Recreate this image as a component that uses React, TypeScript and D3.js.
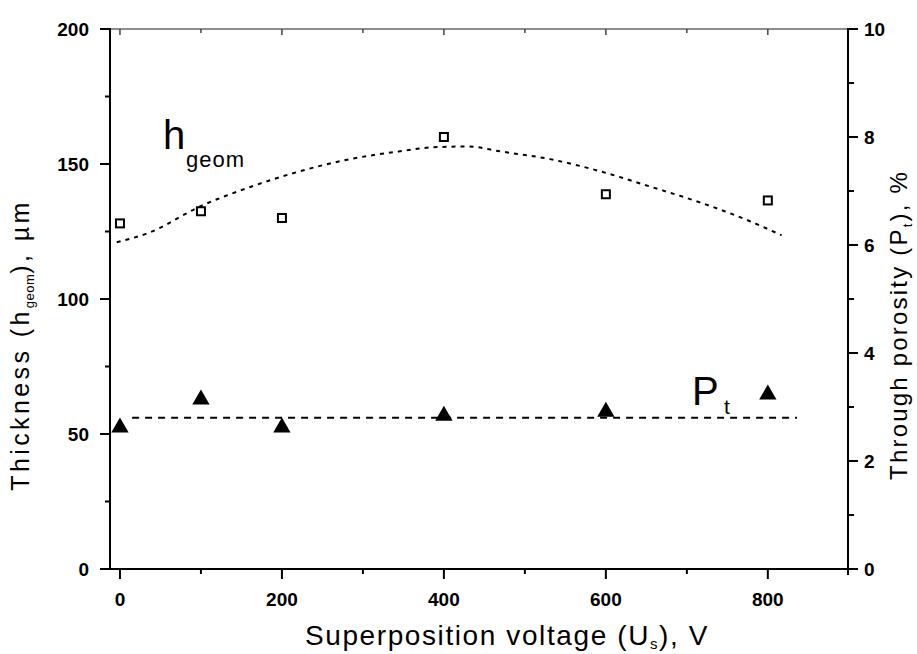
import React from "react";
import * as d3 from "d3";

const voltage = [0, 100, 200, 400, 600, 800];
const thickness = [128, 132.5, 130, 160, 138.8, 136.5];
const porosity = [2.62, 3.14, 2.62, 2.84, 2.91, 3.23];

const fitX = [-4, 37, 99, 160, 222, 284, 346, 387, 430, 469, 531, 593, 654, 716, 778, 817];
const fitH = [121, 124.7, 134.3, 141.4, 147.3, 151.8, 154.7, 156.2, 156.5, 154.7, 151.8, 147.3, 141.7, 135.8, 128.8, 123.6];

const meanX = [15, 836];
const meanP = [2.8, 2.8];

const xMajor = [0, 200, 400, 600, 800];
const xMinor = [100, 300, 500, 700];
const yMajor = [0, 50, 100, 150, 200];
const yMinor = [25, 75, 125, 175];
const y2Major = [0, 2, 4, 6, 8, 10];
const y2Minor = [1, 3, 5, 7, 9];

const W = 917;
const H = 654;
const L = 110, R = 848, T = 29, B = 569;

export default function App() {
  const x = d3.scaleLinear().domain([-12.3, 899]).range([L, R]);
  const y = d3.scaleLinear().domain([0, 200]).range([B, T]);
  const y2 = d3.scaleLinear().domain([0, 10]).range([B, T]);

  const fitLine = d3
    .line<number>()
    .x((_, i) => x(fitX[i]))
    .y((d) => y(d))
    .curve(d3.curveMonotoneX)(fitH) as string;

  const meanLine = d3
    .line<number>()
    .x((_, i) => x(meanX[i]))
    .y((d) => y2(d))(meanP) as string;

  const ff = "Liberation Sans, Arial, sans-serif";
  const tickFont = { fontFamily: ff, fontWeight: 700, fontSize: 19 };
  const tri = d3.symbol().type(d3.symbolTriangle).size(130)() as string;

  return (
    <svg width={W} height={H} style={{ position: "absolute", left: 0, top: 0, background: "#fff" }}>
      <rect x={0} y={0} width={W} height={H} fill="#fff" />
      {/* frame */}
      <line x1={L} y1={T} x2={R} y2={T} stroke="#666" strokeWidth={1.5} />
      <line x1={L} y1={T - 1} x2={L} y2={B + 1} stroke="#000" strokeWidth={2} />
      <line x1={R} y1={T - 1} x2={R} y2={B + 6} stroke="#000" strokeWidth={2} />
      <line x1={L - 10} y1={B} x2={R} y2={B} stroke="#000" strokeWidth={2} />

      {/* bottom ticks */}
      {xMajor.map((v) => (
        <g key={"xm" + v}>
          <line x1={x(v)} x2={x(v)} y1={B} y2={B + 10} stroke="#000" strokeWidth={2} />
          <line x1={x(v)} x2={x(v)} y1={T} y2={T + 6} stroke="#444" strokeWidth={1.5} />
          <text x={x(v)} y={606} textAnchor="middle" {...tickFont}>{v}</text>
        </g>
      ))}
      {xMinor.map((v) => (
        <g key={"xn" + v}>
          <line x1={x(v)} x2={x(v)} y1={B} y2={B + 5} stroke="#000" strokeWidth={2} />
          <line x1={x(v)} x2={x(v)} y1={T} y2={T + 4} stroke="#444" strokeWidth={1.5} />
        </g>
      ))}

      {/* left ticks */}
      {yMajor.map((v) => (
        <g key={"ym" + v}>
          <line x1={L - 10} x2={L} y1={y(v)} y2={y(v)} stroke="#000" strokeWidth={2} />
          <text x={89} y={y(v) + 7} textAnchor="end" {...tickFont}>{v}</text>
        </g>
      ))}
      {yMinor.map((v) => (
        <line key={"yn" + v} x1={L - 5} x2={L} y1={y(v)} y2={y(v)} stroke="#000" strokeWidth={2} />
      ))}

      {/* right ticks */}
      {y2Major.map((v) => (
        <g key={"y2m" + v}>
          <line x1={R} x2={R + 10} y1={y2(v)} y2={y2(v)} stroke="#000" strokeWidth={2} />
          <text x={864} y={y2(v) + 7} textAnchor="start" {...tickFont}>{v}</text>
        </g>
      ))}
      {y2Minor.map((v) => (
        <line key={"y2n" + v} x1={R} x2={R + 6} y1={y2(v)} y2={y2(v)} stroke="#000" strokeWidth={2} />
      ))}

      {/* fit curves */}
      <path d={fitLine} fill="none" stroke="#000" strokeWidth={2} strokeDasharray="4,5" />
      <path d={meanLine} fill="none" stroke="#000" strokeWidth={2} strokeDasharray="7,6" />

      {/* markers */}
      {voltage.map((v, i) => (
        <rect key={"sq" + v} x={x(v) - 4} y={y(thickness[i]) - 4} width={8} height={8} fill="#fff" stroke="#000" strokeWidth={2} />
      ))}
      {voltage.map((v, i) => (
        <path key={"tr" + v} d={tri} transform={`translate(${x(v)},${y2(porosity[i])})`} fill="#000" />
      ))}

      {/* annotations */}
      <text x={163} y={149} fontFamily={ff} fontSize={40}>h</text>
      <text x={186} y={167} fontFamily={ff} fontSize={22} letterSpacing={1}>geom</text>
      <text x={692} y={405} fontFamily={ff} fontSize={40}>P</text>
      <text x={724} y={414} fontFamily={ff} fontSize={21}>t</text>

      {/* axis titles */}
      <text x={507} y={645} textAnchor="middle" fontFamily={ff} fontSize={28} letterSpacing={1.6}>
        Superposition voltage (U<tspan fontSize={15} dy={4}>s</tspan><tspan dy={-4}>), V</tspan>
      </text>
      <text transform={`translate(29,345) rotate(-90)`} textAnchor="middle" fontFamily={ff} fontSize={25} letterSpacing={3.4}>
        Thickness (h<tspan fontSize={13} dy={5} letterSpacing={0.5}>geom</tspan><tspan dy={-5}>), µm</tspan>
      </text>
      <text transform={`translate(907,325) rotate(-90)`} textAnchor="middle" fontFamily={ff} fontSize={24} letterSpacing={2.2}>
        Through porosity (P<tspan fontSize={13} dy={5}>t</tspan><tspan dy={-5}>), %</tspan>
      </text>
    </svg>
  );
}
